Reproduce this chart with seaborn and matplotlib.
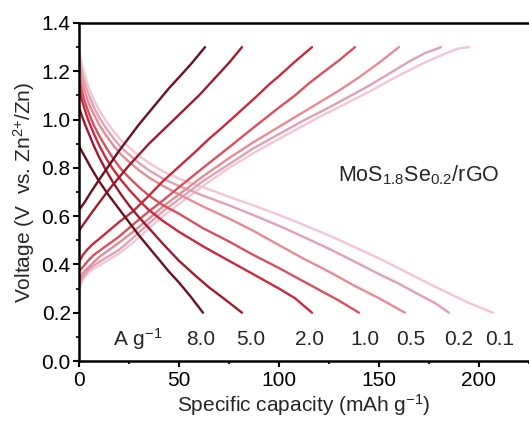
import matplotlib

matplotlib.use("Agg")
import matplotlib.pyplot as plt
import pandas as pd
import seaborn as sns
from matplotlib.ticker import FormatStrFormatter, MultipleLocator

# current densities (A g-1) and their line colours, darkest = fastest
rates = ["8.0", "5.0", "2.0", "1.0", "0.5", "0.2", "0.1"]
colors = ["#6b1020", "#9e1b2e", "#c8293e", "#d8505f", "#e68b93", "#dfa0b8", "#f3c6d2"]

# discharge branches (capacity in mAh g-1, voltage in V)
d80_cap = [0, 3, 6, 10, 15, 20, 25, 30, 35, 40, 45, 50, 56, 62]
d80_v = [0.89, 0.845, 0.80, 0.745, 0.685, 0.63, 0.575, 0.52, 0.47, 0.42, 0.37, 0.325, 0.265, 0.20]
d50_cap = [0, 1.5, 3, 5, 7.5, 10, 13.5, 17, 21, 25, 30, 35, 42, 50, 58, 65, 73, 81.5]
d50_v = [1.05, 1.015, 0.98, 0.94, 0.89, 0.845, 0.79, 0.74, 0.69, 0.645, 0.595, 0.55, 0.485,
         0.415, 0.355, 0.305, 0.255, 0.20]
d20_cap = [0, 1, 2, 3.5, 5, 7.5, 10, 13.5, 17, 21, 25, 30, 35, 42, 50, 62, 75, 87, 100, 108, 116.5]
d20_v = [1.13, 1.095, 1.065, 1.025, 0.99, 0.94, 0.895, 0.84, 0.795, 0.75, 0.71, 0.665, 0.625,
         0.58, 0.535, 0.475, 0.415, 0.36, 0.30, 0.26, 0.20]
d10_cap = [0, 1, 2, 3.5, 5, 7.5, 10, 13.5, 17, 21, 25, 30, 35, 42, 50, 62, 75, 87, 100, 110,
           120, 130, 140]
d10_v = [1.17, 1.135, 1.10, 1.06, 1.025, 0.975, 0.935, 0.885, 0.84, 0.795, 0.76, 0.72, 0.685,
         0.645, 0.61, 0.55, 0.495, 0.44, 0.385, 0.34, 0.295, 0.25, 0.20]
d05_cap = [0, 1, 2, 3.5, 5, 7.5, 10, 13.5, 17, 21, 25, 30, 35, 42, 50, 62, 75, 87, 100, 112,
           125, 137, 150, 163]
d05_v = [1.21, 1.175, 1.14, 1.10, 1.065, 1.02, 0.98, 0.935, 0.895, 0.855, 0.825, 0.79, 0.76,
         0.725, 0.69, 0.64, 0.59, 0.54, 0.48, 0.425, 0.37, 0.315, 0.26, 0.20]
d02_cap = [0, 1, 2, 3.5, 5, 7.5, 10, 13.5, 17, 21, 25, 30, 35, 42, 50, 62, 75, 87, 100, 112,
           125, 137, 150, 160, 170, 178, 185]
d02_v = [1.25, 1.21, 1.175, 1.135, 1.10, 1.05, 1.01, 0.965, 0.925, 0.885, 0.855, 0.82, 0.79,
         0.755, 0.725, 0.685, 0.645, 0.605, 0.56, 0.515, 0.465, 0.415, 0.36, 0.32, 0.275, 0.24,
         0.20]
d01_cap = [0, 1, 2, 3.5, 5, 7.5, 10, 13.5, 17, 21, 25, 30, 35, 42, 50, 62, 75, 87, 100, 112,
           125, 137, 150, 162, 175, 185, 195, 201, 207]
d01_v = [1.29, 1.245, 1.21, 1.165, 1.13, 1.08, 1.04, 0.995, 0.955, 0.915, 0.885, 0.85, 0.82,
         0.785, 0.755, 0.72, 0.68, 0.645, 0.605, 0.565, 0.52, 0.475, 0.425, 0.375, 0.32, 0.28,
         0.24, 0.22, 0.20]

# charge branches
c80_cap = [0, 3, 6, 10, 15, 20, 25, 30, 35, 40, 45, 50, 56, 63]
c80_v = [0.625, 0.66, 0.70, 0.75, 0.81, 0.87, 0.925, 0.98, 1.03, 1.08, 1.13, 1.175, 1.23, 1.30]
c50_cap = [0, 3, 6, 10, 15, 20, 25, 30, 35, 40, 45, 50, 55, 60, 65, 70, 75, 81.5]
c50_v = [0.54, 0.575, 0.61, 0.655, 0.71, 0.76, 0.81, 0.855, 0.90, 0.94, 0.98, 1.02, 1.06, 1.10,
         1.145, 1.19, 1.235, 1.30]
c20_cap = [0, 1, 2, 4, 7, 10, 15, 20, 27, 35, 42, 50, 58, 65, 72, 80, 88, 95, 100, 108, 116.5]
c20_v = [0.41, 0.425, 0.44, 0.46, 0.485, 0.505, 0.54, 0.575, 0.62, 0.685, 0.745, 0.805, 0.865,
         0.92, 0.97, 1.03, 1.09, 1.145, 1.18, 1.24, 1.30]
c10_cap = [0, 1, 2, 3.5, 5, 7.5, 10, 15, 20, 27, 35, 42, 50, 62, 75, 87, 100, 108, 115, 122,
           130, 138]
c10_v = [0.37, 0.38, 0.39, 0.405, 0.42, 0.44, 0.455, 0.485, 0.515, 0.565, 0.62, 0.665, 0.72,
         0.80, 0.885, 0.965, 1.05, 1.10, 1.15, 1.195, 1.245, 1.30]
c05_cap = [0, 0.7, 1.5, 3, 5, 7.5, 10, 15, 20, 27, 35, 42, 50, 62, 75, 87, 100, 110, 120, 130,
           140, 150, 160]
c05_v = [0.33, 0.345, 0.36, 0.375, 0.39, 0.41, 0.43, 0.46, 0.49, 0.535, 0.59, 0.64, 0.69, 0.765,
         0.84, 0.905, 0.97, 1.02, 1.07, 1.12, 1.175, 1.235, 1.30]
c02_cap = [0, 0.5, 1, 2, 3.5, 5, 7.5, 10, 15, 20, 27, 35, 42, 50, 62, 75, 87, 100, 112, 125,
           135, 145, 155, 165, 173, 181]
c02_v = [0.30, 0.32, 0.335, 0.35, 0.365, 0.38, 0.395, 0.41, 0.435, 0.46, 0.51, 0.57, 0.62, 0.67,
         0.745, 0.815, 0.88, 0.94, 0.995, 1.05, 1.095, 1.14, 1.19, 1.24, 1.275, 1.30]
c01_cap = [0, 0.3, 0.7, 1.5, 2.5, 4, 6, 8, 10, 15, 20, 27, 35, 42, 50, 62, 75, 87, 100, 110,
           120, 132, 145, 157, 170, 178, 185, 190, 195]
c01_v = [0.26, 0.29, 0.31, 0.33, 0.345, 0.36, 0.375, 0.385, 0.395, 0.42, 0.445, 0.49, 0.55,
         0.60, 0.65, 0.725, 0.80, 0.86, 0.92, 0.965, 1.01, 1.06, 1.115, 1.17, 1.225, 1.255, 1.28,
         1.295, 1.30]

# rate label positions along the bottom (capacity of each label centre)
label_cap = [61, 86, 115.5, 143, 166, 190, 210.5]

branches = [
    ("8.0", d80_cap, d80_v, c80_cap, c80_v),
    ("5.0", d50_cap, d50_v, c50_cap, c50_v),
    ("2.0", d20_cap, d20_v, c20_cap, c20_v),
    ("1.0", d10_cap, d10_v, c10_cap, c10_v),
    ("0.5", d05_cap, d05_v, c05_cap, c05_v),
    ("0.2", d02_cap, d02_v, c02_cap, c02_v),
    ("0.1", d01_cap, d01_v, c01_cap, c01_v),
]

rows = []
for rate, dc, dv, cc, cv in branches:
    for x, y in zip(dc, dv):
        rows.append({"cap": x, "V": y, "rate": rate, "branch": "discharge"})
    for x, y in zip(cc, cv):
        rows.append({"cap": x, "V": y, "rate": rate, "branch": "charge"})
df = pd.DataFrame(rows)

sns.set_theme(style="ticks")
plt.rcParams["font.family"] = ["Liberation Sans", "DejaVu Sans"]
plt.rcParams["mathtext.fontset"] = "custom"
plt.rcParams["mathtext.rm"] = "Liberation Sans"
plt.rcParams["mathtext.it"] = "Liberation Sans"

fig = plt.figure(figsize=(5.29, 4.23), dpi=100)
ax = fig.add_axes([79 / 529, 62 / 423, 450 / 529, 338 / 423])

# lightest first so the dark, fast-rate curves sit on top
order = rates[::-1]
palette = dict(zip(rates, colors))
sns.lineplot(
    data=df,
    x="cap",
    y="V",
    hue="rate",
    hue_order=order,
    units="branch",
    estimator=None,
    sort=False,
    palette=palette,
    linewidth=1.7,
    legend=False,
    ax=ax,
)

ax.set_xlim(0, 225)
ax.set_ylim(0, 1.4)
ax.xaxis.set_major_locator(MultipleLocator(50))
ax.xaxis.set_minor_locator(MultipleLocator(25))
ax.yaxis.set_major_locator(MultipleLocator(0.2))
ax.yaxis.set_minor_locator(MultipleLocator(0.1))
ax.yaxis.set_major_formatter(FormatStrFormatter("%.1f"))

for side in ["left", "bottom", "top"]:
    ax.spines[side].set_linewidth(1.8)
    ax.spines[side].set_color("black")
ax.spines["right"].set_visible(False)

ax.tick_params(which="major", direction="out", length=4, width=1.5,
               labelsize=15, pad=2, colors="black")
ax.tick_params(which="minor", direction="out", length=2.5, width=1.2, colors="black")
ax.tick_params(axis="x", which="major", pad=3)

ax.set_xlabel("Specific capacity (mAh g$^{-1}$)", fontsize=15, labelpad=2)
ax.set_ylabel("Voltage (V  vs. Zn$^{2{+}}$/Zn)", fontsize=15, labelpad=3)

ax.text(29.5, 0.09, "A g$^{-1}$", fontsize=15, ha="center", va="center")
for rate, xc in zip(rates, label_cap):
    ax.text(xc, 0.09, rate, fontsize=15, ha="center", va="center")

ax.text(129.5, 0.77, "MoS$_{1.8}$Se$_{0.2}$/rGO",
        fontsize=15.5, ha="left", va="center")

fig.savefig("out.png", dpi=100)
